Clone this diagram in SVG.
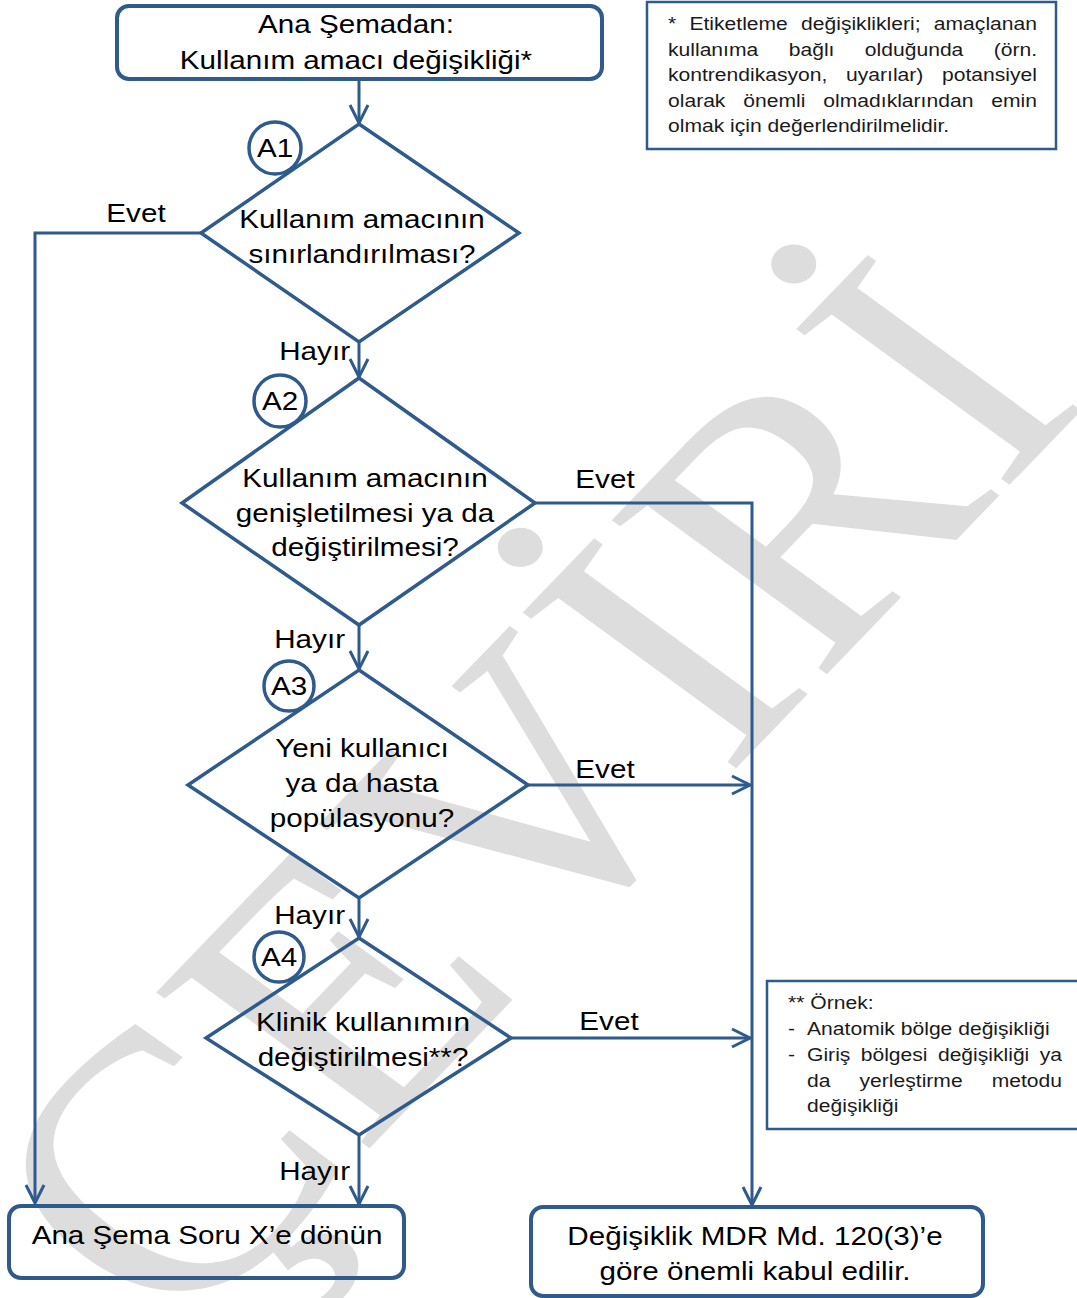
<svg xmlns="http://www.w3.org/2000/svg" width="1077" height="1298" viewBox="0 0 1077 1298">
  <defs>
    <style>
      .shape { fill: none; stroke: #2f5a8e; stroke-width: 3.5; }
      .box { fill: none; stroke: #2f5a8e; stroke-width: 4; }
      .note { fill: #ffffff; stroke: #2f5a8e; stroke-width: 2.5; }
      .tag { fill: #ffffff; stroke: #2f5a8e; stroke-width: 3.5; }
      .wire { fill: none; stroke: #2f5a8e; stroke-width: 3; }
      .t { font-family: "Liberation Sans", Arial, sans-serif; font-size: 26px; fill: #000000; }
      .c { text-anchor: middle; }
      .e { text-anchor: end; }
      .small { font-family: "Liberation Sans", Arial, sans-serif; font-size: 18.5px; fill: #1a1a1a; }
      .mark { font-family: "Liberation Serif", "Times New Roman", serif; font-size: 370px; fill: #dddddd; text-anchor: middle; }
    </style>
    <marker id="arrow" markerUnits="userSpaceOnUse" markerWidth="24" markerHeight="24" viewBox="0 0 24 24" refX="21" refY="12" orient="auto">
      <path d="M3,3 L21,12 L3,21" fill="none" stroke="#2f5a8e" stroke-width="3"/>
    </marker>
  </defs>

  <rect width="1077" height="1298" fill="#ffffff"/>

  <!-- watermark -->
  <text class="mark" transform="translate(635 873) scale(1.15 1) rotate(-50)">ÇEVİRİ</text>

  <!-- connectors -->
  <g id="connectors">
    <path class="wire" d="M359,80 V123" marker-end="url(#arrow)"/>
    <path class="wire" d="M201,233 H35 V1203" marker-end="url(#arrow)"/>
    <path class="wire" d="M359,342 V377" marker-end="url(#arrow)"/>
    <path class="wire" d="M535,503 H752 V1205" marker-end="url(#arrow)"/>
    <path class="wire" d="M359,625 V669" marker-end="url(#arrow)"/>
    <path class="wire" d="M528,785 H750" marker-end="url(#arrow)"/>
    <path class="wire" d="M359,898 V937" marker-end="url(#arrow)"/>
    <path class="wire" d="M511,1038 H750" marker-end="url(#arrow)"/>
    <path class="wire" d="M359,1135 V1204" marker-end="url(#arrow)"/>

    <text class="t c" transform="translate(136 222) scale(1.14 1)">Evet</text>
    <text class="t e" transform="translate(350 360) scale(1.14 1)">Hayır</text>
    <text class="t c" transform="translate(605 488) scale(1.14 1)">Evet</text>
    <text class="t e" transform="translate(345 648) scale(1.14 1)">Hayır</text>
    <text class="t c" transform="translate(605 778) scale(1.14 1)">Evet</text>
    <text class="t e" transform="translate(345 924) scale(1.14 1)">Hayır</text>
    <text class="t c" transform="translate(609 1030) scale(1.14 1)">Evet</text>
    <text class="t e" transform="translate(350 1180) scale(1.14 1)">Hayır</text>
  </g>

  <!-- start -->
  <g id="start">
    <rect class="box" x="117" y="6" width="485" height="73" rx="12"/>
    <text class="t c" transform="translate(356 33) scale(1.14 1)">Ana Şemadan:</text>
    <text class="t c" transform="translate(356 69) scale(1.14 1)">Kullanım amacı değişikliği*</text>
  </g>

  <!-- footnote *, justified by hand -->
  <g id="note1">
    <rect class="note" x="647" y="2" width="409" height="147"/>
    <text class="small" transform="translate(668 0) scale(1.14 1)">
      <tspan x="0" y="30.5">*</tspan><tspan x="18.8" y="30.5">Etiketleme</tspan><tspan x="116.7" y="30.5">değişiklikleri;</tspan><tspan x="233.2" y="30.5">amaçlanan</tspan>
      <tspan x="0" y="56">kullanıma</tspan><tspan x="105.9" y="56">bağlı</tspan><tspan x="172.7" y="56">olduğunda</tspan><tspan x="285.7" y="56">(örn.</tspan>
      <tspan x="0" y="81.5">kontrendikasyon,</tspan><tspan x="156.2" y="81.5">uyarılar)</tspan><tspan x="240.4" y="81.5">potansiyel</tspan>
      <tspan x="0" y="107">olarak</tspan><tspan x="66.1" y="107">önemli</tspan><tspan x="136.3" y="107">olmadıklarından</tspan><tspan x="283.6" y="107">emin</tspan>
      <tspan x="0" y="132.5">olmak için değerlendirilmelidir.</tspan>
    </text>
  </g>

  <!-- A1 -->
  <g id="a1">
    <polygon class="shape" points="359,124 519,233 359,342 201,233"/>
    <circle class="tag" cx="275" cy="148" r="26"/>
    <text class="t c" transform="translate(275 157) scale(1.14 1)">A1</text>
    <text class="t c" transform="translate(362 228) scale(1.14 1)">Kullanım amacının<tspan x="0" dy="35">sınırlandırılması?</tspan></text>
  </g>

  <!-- A2 -->
  <g id="a2">
    <polygon class="shape" points="359,378 535,503 359,625 182,503"/>
    <circle class="tag" cx="280" cy="401" r="26"/>
    <text class="t c" transform="translate(280 410) scale(1.14 1)">A2</text>
    <text class="t c" transform="translate(365 487) scale(1.14 1)">Kullanım amacının<tspan x="0" dy="35">genişletilmesi ya da</tspan><tspan x="0" dy="34">değiştirilmesi?</tspan></text>
  </g>

  <!-- A3 -->
  <g id="a3">
    <polygon class="shape" points="359,670 528,785 359,898 188,785"/>
    <circle class="tag" cx="289" cy="686" r="25"/>
    <text class="t c" transform="translate(289 695) scale(1.14 1)">A3</text>
    <text class="t c" transform="translate(362 757) scale(1.14 1)">Yeni kullanıcı<tspan x="0" dy="35">ya da hasta</tspan><tspan x="0" dy="35">popülasyonu?</tspan></text>
  </g>

  <!-- A4 -->
  <g id="a4">
    <polygon class="shape" points="359,938 511,1038 359,1135 206,1038"/>
    <circle class="tag" cx="279" cy="957" r="25"/>
    <text class="t c" transform="translate(279 966) scale(1.14 1)">A4</text>
    <text class="t c" transform="translate(363 1031) scale(1.14 1)">Klinik kullanımın<tspan x="0" dy="35">değiştirilmesi**?</tspan></text>
  </g>

  <!-- footnote **, justified by hand -->
  <g id="note2">
    <rect class="note" x="767" y="981" width="320" height="148"/>
    <text class="small" transform="translate(788 0) scale(1.14 1)">
      <tspan x="0" y="1009">** Örnek:</tspan>
      <tspan x="0" y="1035">-</tspan><tspan x="16.7" y="1035">Anatomik bölge değişikliği</tspan>
      <tspan x="0" y="1061">-</tspan><tspan x="16.7" y="1061">Giriş</tspan><tspan x="63.8" y="1061">bölgesi</tspan><tspan x="131.5" y="1061">değişikliği</tspan><tspan x="220.9" y="1061">ya</tspan>
      <tspan x="16.7" y="1087">da</tspan><tspan x="62.8" y="1087">yerleştirme</tspan><tspan x="178.7" y="1087">metodu</tspan>
      <tspan x="16.7" y="1112">değişikliği</tspan>
    </text>
  </g>

  <!-- outcomes -->
  <g id="back">
    <rect class="box" x="9" y="1206" width="395" height="72" rx="12"/>
    <text class="t c" transform="translate(207 1244) scale(1.14 1)">Ana Şema Soru X’e dönün</text>
  </g>

  <g id="significant">
    <rect class="box" x="531" y="1207" width="452" height="89" rx="12"/>
    <text class="t c" transform="translate(755 1245) scale(1.14 1)">Değişiklik MDR Md. 120(3)’e<tspan x="0" dy="35">göre önemli kabul edilir.</tspan></text>
  </g>
</svg>
